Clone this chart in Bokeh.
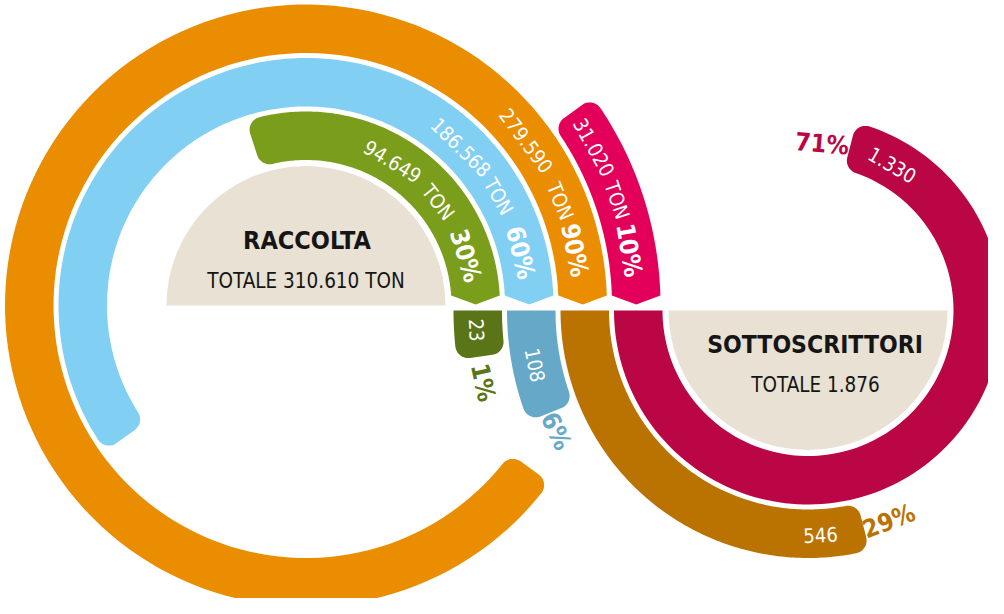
import numpy as np
from bokeh.plotting import figure
from bokeh.models import ColumnDataSource, Range1d
from bokeh.core.properties import value
from bokeh.embed import file_html
from bokeh.resources import INLINE

# ---------------- data ----------------
raccolta_title = "RACCOLTA"
raccolta_total = "TOTALE 310.610 TON"
raccolta_values = ["94.649", "186.568", "279.590", "31.020"]
raccolta_unit = "TON"
raccolta_pct = [30, 60, 90, 10]
raccolta_colors = ["#7A9E1C", "#82CFF4", "#EB8D00", "#E3005B"]

sott_title = "SOTTOSCRITTORI"
sott_total = "TOTALE 1.876"
sott_values = ["23", "108", "546", "1.330"]
sott_pct = [1, 6, 29, 71]
sott_colors = ["#5A7517", "#66A8C8", "#BA7300", "#BA0644"]

# ---------------- layout ----------------
W, H = 1004, 614
LCX, LCY = 313.5, H - 313.0     # left centre (y up)
RCX, RCY = 815.5, H - 318.0     # right centre
R_IN = [145.5, 199.0, 252.5, 306.0]
BAND = 48.5
DISC_R = 139.5
CORNER = 13.0
SHOULDER, TIP = 10.0, 1.0
MIN_SWEEP = 8.0
BEIGE = "#E8E1D4"
INK = "#151515"

FONT = value("DejaVu Sans Condensed")

# label angles (degrees) along the rings
left_word_angles = [[59.0, 38.0, 17.3], [45.6, 29.5, 13.8], [36.8, 22.3, 11.6], [28.8, 18.7, 9.7]]
right_val_angles = [183.4, 191.3, 273.2, 419.9]
right_pct_angles = [192.5, 205.6, 291.0, 445.2]


def band(cx, cy, r0, r1, a0, a1, start, rc=CORNER, n=140):
    rm = (r0 + r1) / 2
    if start == "chevron":
        ao = np.arcsin(SHOULDER / r1)
        ai = np.arcsin(SHOULDER / r0)
    else:
        ao = ai = a0
    b = a1 - np.arcsin(rc / (r1 - rc))
    c = a1 - np.arcsin(rc / (r0 + rc))
    t = np.linspace(ao, b, n)
    xs = list(r1 * np.cos(t)); ys = list(r1 * np.sin(t))
    ph = np.linspace(b, a1 + np.pi / 2, 14)
    xs += list((r1 - rc) * np.cos(b) + rc * np.cos(ph)); ys += list((r1 - rc) * np.sin(b) + rc * np.sin(ph))
    ph = np.linspace(a1 + np.pi / 2, c + np.pi, 14)
    xs += list((r0 + rc) * np.cos(c) + rc * np.cos(ph)); ys += list((r0 + rc) * np.sin(c) + rc * np.sin(ph))
    t = np.linspace(c, ai, n)
    xs += list(r0 * np.cos(t)); ys += list(r0 * np.sin(t))
    if start == "chevron":
        xs.append(rm); ys.append(TIP)
    return list(cx + np.array(xs)), list(cy + np.array(ys))


def readable(theta_deg):
    r = theta_deg - 90.0
    r = (r + 180.0) % 360.0 - 180.0
    if r > 90:
        r -= 180
    elif r < -90:
        r += 180
    return np.radians(r)


def place(cx, cy, rm, ang, size):
    """Anchor on the ring at angle ang, nudged so the glyphs' cap centre sits on the ring."""
    th = np.radians(ang)
    rot = readable(ang)
    d = 0.10 * size
    x = cx + rm * np.cos(th) + d * np.sin(rot)
    y = cy + rm * np.sin(th) - d * np.cos(rot)
    return x, y, rot


p = figure(width=988, height=598, x_range=Range1d(8, 996), y_range=Range1d(8, 606),
           x_axis_type=None, y_axis_type=None, toolbar_location=None,
           output_backend="svg", min_border=0, outline_line_color=None,
           background_fill_color="white", border_fill_color="white")
p.grid.visible = False

# beige half discs
p.wedge(x=[LCX, RCX], y=[LCY, RCY], radius=DISC_R,
        start_angle=[0, np.pi], end_angle=[np.pi, 2 * np.pi],
        fill_color=BEIGE, line_color=None)

# bands
bx, by, bc = [], [], []
for i, pct in enumerate(raccolta_pct):
    r0 = R_IN[i]
    x, y = band(LCX, LCY, r0, r0 + BAND, 0.0, np.radians(pct * 3.6), "chevron")
    bx.append(x); by.append(y); bc.append(raccolta_colors[i])
for i, pct in enumerate(sott_pct):
    r0 = R_IN[3 - i]
    sweep = max(pct * 3.6, MIN_SWEEP)
    x, y = band(RCX, RCY, r0, r0 + BAND, np.pi, np.pi + np.radians(sweep), "flat")
    bx.append(x); by.append(y); bc.append(sott_colors[i])
p.patches(xs=bx, ys=by, fill_color=bc, line_color=None)

VAL_SIZE, PCT_SIZE, RPCT_SIZE = 20, 25, 25

# left labels (white, along rings)
wx, wy, wt, wa = [], [], [], []
px_, py_, pt, pa = [], [], [], []
for i in range(4):
    rm = R_IN[i] + BAND / 2
    words = [raccolta_values[i], raccolta_unit]
    for w, ang in zip(words, left_word_angles[i][:2]):
        x, y, r = place(LCX, LCY, rm, ang, VAL_SIZE)
        wx.append(x); wy.append(y); wt.append(w); wa.append(r)
    x, y, r = place(LCX, LCY, rm, left_word_angles[i][2], PCT_SIZE)
    px_.append(x); py_.append(y); pt.append(f"{raccolta_pct[i]}%"); pa.append(r)

# right value labels inside bars
for i in range(4):
    rm = R_IN[3 - i] + BAND / 2
    x, y, r = place(RCX, RCY, rm, right_val_angles[i], VAL_SIZE)
    wx.append(x); wy.append(y); wt.append(sott_values[i]); wa.append(r)

p.text(x=wx, y=wy, text=wt, angle=wa, text_color="white", text_font=FONT,
       text_font_size=f"{VAL_SIZE}px", text_align="center", text_baseline="middle")
p.text(x=px_, y=py_, text=pt, angle=pa, text_color="white", text_font=FONT,
       text_font_size=f"{PCT_SIZE}px", text_font_style="bold", text_align="center",
       text_baseline="middle")

# right pct labels (coloured, beyond bar ends)
qx, qy, qt, qa = [], [], [], []
for i in range(4):
    rm = R_IN[3 - i] + BAND / 2
    x, y, r = place(RCX, RCY, rm, right_pct_angles[i], RPCT_SIZE)
    qx.append(x); qy.append(y); qt.append(f"{sott_pct[i]}%"); qa.append(r)
src = ColumnDataSource(dict(x=qx, y=qy, text=qt, angle=qa, color=sott_colors))
p.text(x="x", y="y", text="text", angle="angle", text_color="color", source=src,
       text_font=FONT, text_font_size=f"{RPCT_SIZE}px", text_font_style="bold",
       text_align="center", text_baseline="middle")

# titles (centred on the capitals)
p.text(x=[LCX + 1], y=[H - 247.5], text=[raccolta_title],
       text_color=INK, text_font=FONT, text_font_size="25px", text_font_style="bold",
       text_align="center", text_baseline="middle")
p.text(x=[RCX + 7], y=[H - 351.5], text=[sott_title],
       text_color=INK, text_font=FONT, text_font_size="24.5px", text_font_style="bold",
       text_align="center", text_baseline="middle")
p.text(x=[LCX, RCX + 7.5], y=[H - 288, H - 392], text=[raccolta_total, sott_total],
       text_color=INK, text_font=FONT, text_font_size="20.5px",
       text_align="center", text_baseline="middle")

open("out.html", "w").write(file_html(p, INLINE))
